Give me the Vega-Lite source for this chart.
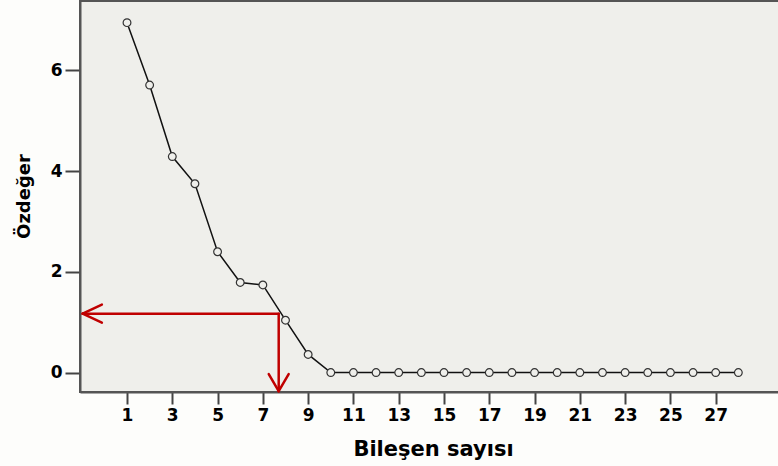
{
  "$schema": "https://vega.github.io/schema/vega-lite/v6.json",
  "width": 700,
  "height": 391,
  "autosize": {"type": "none"},
  "padding": {"left": 80, "top": 1, "right": 0, "bottom": 74},
  "background": "#fdfdfb",
  "config": {
    "view": {"fill": "#efefeb", "stroke": "#555555", "strokeWidth": 2},
    "font": "DejaVu Sans",
    "axis": {
      "grid": false,
      "domainColor": "#555555",
      "domainWidth": 2,
      "tickColor": "#444444",
      "tickWidth": 2,
      "labelFont": "DejaVu Sans",
      "labelFontWeight": "bold",
      "labelFontSize": 17,
      "labelColor": "#000000",
      "titleFont": "DejaVu Sans",
      "titleFontWeight": "bold",
      "titleColor": "#000000"
    }
  },
  "datasets": {
    "scree": [
      {"k": 1, "v": 6.95}, {"k": 2, "v": 5.71}, {"k": 3, "v": 4.29}, {"k": 4, "v": 3.75},
      {"k": 5, "v": 2.40}, {"k": 6, "v": 1.79}, {"k": 7, "v": 1.74}, {"k": 8, "v": 1.04},
      {"k": 9, "v": 0.36}, {"k": 10, "v": 0.0}, {"k": 11, "v": 0.0}, {"k": 12, "v": 0.0},
      {"k": 13, "v": 0.0}, {"k": 14, "v": 0.0}, {"k": 15, "v": 0.0}, {"k": 16, "v": 0.0},
      {"k": 17, "v": 0.0}, {"k": 18, "v": 0.0}, {"k": 19, "v": 0.0}, {"k": 20, "v": 0.0},
      {"k": 21, "v": 0.0}, {"k": 22, "v": 0.0}, {"k": 23, "v": 0.0}, {"k": 24, "v": 0.0},
      {"k": 25, "v": 0.0}, {"k": 26, "v": 0.0}, {"k": 27, "v": 0.0}, {"k": 28, "v": 0.0}
    ],
    "arrows": [
      {"seg": "h", "o": 1, "x": 7.70, "y": 1.17}, {"seg": "h", "o": 2, "x": -0.96, "y": 1.17},
      {"seg": "h1", "o": 1, "x": -0.96, "y": 1.17}, {"seg": "h1", "o": 2, "x": -0.11, "y": 1.35},
      {"seg": "h2", "o": 1, "x": -0.96, "y": 1.17}, {"seg": "h2", "o": 2, "x": -0.11, "y": 0.99},
      {"seg": "v", "o": 1, "x": 7.70, "y": 1.17}, {"seg": "v", "o": 2, "x": 7.70, "y": -0.37},
      {"seg": "v1", "o": 1, "x": 7.70, "y": -0.37}, {"seg": "v1", "o": 2, "x": 7.26, "y": -0.03},
      {"seg": "v2", "o": 1, "x": 7.70, "y": -0.37}, {"seg": "v2", "o": 2, "x": 8.14, "y": -0.03}
    ]
  },
  "layer": [
    {
      "data": {"name": "scree"},
      "mark": {"type": "line", "color": "#111111", "strokeWidth": 1.5},
      "encoding": {
        "x": {
          "field": "k", "type": "quantitative",
          "scale": {"domain": [-1.076, 29.84], "nice": false, "zero": false},
          "axis": {
            "values": [1, 3, 5, 7, 9, 11, 13, 15, 17, 19, 21, 23, 25, 27],
            "tickSize": 12, "labelPadding": 3,
            "title": "Bileşen sayısı",
            "titleFontSize": 21,
            "titleX": 353, "titleY": 63, "titleBaseline": "alphabetic", "titleAnchor": "middle", "titleAlign": "center"
          }
        },
        "y": {
          "field": "v", "type": "quantitative",
          "scale": {"domain": [-0.386, 7.38], "nice": false, "zero": false},
          "axis": {
            "values": [0, 2, 4, 6],
            "tickSize": 15, "labelPadding": 3,
            "title": "Özdeğer",
            "titleFontSize": 18,
            "titleX": -51, "titleY": 195, "titleAngle": -90, "titleAlign": "center", "titleBaseline": "alphabetic"
          }
        }
      }
    },
    {
      "data": {"name": "scree"},
      "mark": {"type": "point", "shape": "circle", "filled": false, "size": 60, "stroke": "#333333", "strokeWidth": 1.2, "fill": "#efefeb", "fillOpacity": 1},
      "encoding": {
        "x": {"field": "k", "type": "quantitative"},
        "y": {"field": "v", "type": "quantitative"}
      }
    },
    {
      "data": {"name": "arrows"},
      "mark": {"type": "line", "color": "#c00000", "strokeWidth": 2.5, "strokeCap": "round"},
      "encoding": {
        "x": {"field": "x", "type": "quantitative"},
        "y": {"field": "y", "type": "quantitative"},
        "detail": {"field": "seg"},
        "order": {"field": "o"}
      }
    }
  ]
}
